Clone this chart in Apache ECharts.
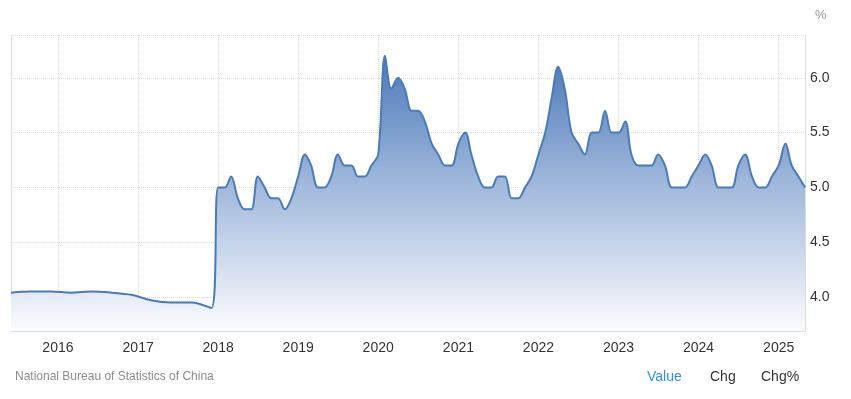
<!doctype html>
<html>
	<head>
		<meta charset="utf-8">
		<title>China Unemployment Rate</title>
		<script src="https://cdn.jsdelivr.net/npm/echarts@6/dist/echarts.min.js"></script>
		<style>
			html, body { margin: 0; padding: 0; background: #fff; }
			#chart { width: 851px; height: 399px; }
		</style>
	</head>
	<body>
		<div id="chart"></div>
		<script type="text/javascript">
			// registered urban unemployment, quarterly (quarter-end month)
			var regDates = ['2015-06', '2015-09', '2015-12', '2016-03', '2016-06', '2016-09', '2016-12',
				'2017-03', '2017-06', '2017-09', '2017-12'];
			var regValues = [4.04, 4.05, 4.05, 4.04, 4.05, 4.04, 4.02, 3.97, 3.95, 3.95, 3.90];

			// surveyed urban unemployment, monthly from Jan 2018
			var surveyStart = [2018, 1];
			var surveyValues = [
				5.0, 5.0, 5.1, 4.9, 4.8, 4.8, 5.1, 5.0, 4.9, 4.9, 4.8, 4.9, // 2018
				5.1, 5.3, 5.2, 5.0, 5.0, 5.1, 5.3, 5.2, 5.2, 5.1, 5.1, 5.2, // 2019
				5.3, 6.2, 5.9, 6.0, 5.9, 5.7, 5.7, 5.6, 5.4, 5.3, 5.2, 5.2, // 2020
				5.4, 5.5, 5.3, 5.1, 5.0, 5.0, 5.1, 5.1, 4.9, 4.9, 5.0, 5.1, // 2021
				5.3, 5.5, 5.8, 6.1, 5.9, 5.5, 5.4, 5.3, 5.5, 5.5, 5.7, 5.5, // 2022
				5.5, 5.6, 5.3, 5.2, 5.2, 5.2, 5.3, 5.2, 5.0, 5.0, 5.0, 5.1, // 2023
				5.2, 5.3, 5.2, 5.0, 5.0, 5.0, 5.2, 5.3, 5.1, 5.0, 5.0, 5.1, // 2024
				5.2, 5.4, 5.2, 5.1, 5.0                                     // 2025
			];

			var yearTicks = [2016, 2017, 2018, 2019, 2020, 2021, 2022, 2023, 2024, 2025];
			var yTicks = [4.0, 4.5, 5.0, 5.5, 6.0];
			var yMin = 3.69;
			var yMax = 6.39;

			function toTime(y, m) {
				return Date.UTC(y, m - 1, 1);
			}

			var seriesData = [];
			for (var i = 0; i < regDates.length; i++) {
				var p = regDates[i].split('-');
				seriesData.push([toTime(+p[0], +p[1]), regValues[i]]);
			}
			for (var j = 0; j < surveyValues.length; j++) {
				var yy = surveyStart[0] + Math.floor((surveyStart[1] - 1 + j) / 12);
				var mm = (surveyStart[1] - 1 + j) % 12 + 1;
				seriesData.push([toTime(yy, mm), surveyValues[j]]);
			}

			var xTicks = yearTicks.map(function (y) { return toTime(y, 1); });

			var chart = echarts.init(document.getElementById('chart'));
			chart.setOption({
				animation: false,
				textStyle: { fontFamily: 'Liberation Sans, Arial, sans-serif' },
				grid: { left: 11, right: 46, top: 35, bottom: 68 },
				xAxis: {
					type: 'value',
					min: toTime(2015, 6),
					max: toTime(2025, 5),
					axisLine: { show: true, lineStyle: { color: '#dcdcdc' } },
					axisTick: { show: false, customValues: xTicks },
					axisLabel: {
						customValues: xTicks,
						color: '#333',
						fontSize: 14,
						margin: 10,
						formatter: function (v) { return new Date(v).getUTCFullYear(); }
					},
					splitLine: { show: true, lineStyle: { color: '#d8d8d8', type: 'dotted' } }
				},
				yAxis: [{
					type: 'value',
					position: 'right',
					min: yMin,
					max: yMax,
					axisLine: { show: true, lineStyle: { color: '#dcdcdc' } },
					axisTick: { show: false, customValues: yTicks.concat([yMax]) },
					axisLabel: {
						customValues: yTicks,
						color: '#333',
						fontSize: 14,
						margin: 5,
						formatter: function (v) { return v.toFixed(1); }
					},
					splitLine: { show: true, lineStyle: { color: '#d8d8d8', type: 'dotted' } }
				}, {
					type: 'value',
					position: 'left',
					min: yMin,
					max: yMax,
					axisLine: { show: true, lineStyle: { color: '#dcdcdc' } },
					axisTick: { show: false },
					axisLabel: { show: false },
					splitLine: { show: false }
				}],
				series: [{
					type: 'line',
					data: seriesData,
					smooth: 0.35,
					showSymbol: false,
					lineStyle: { color: '#4a7bb7', width: 2 },
					itemStyle: { color: '#4a7bb7' },
					areaStyle: {
						opacity: 1,
						color: new echarts.graphic.LinearGradient(0, 0, 0, 1, [
							{ offset: 0, color: '#4b79b9' },
							{ offset: 0.45, color: '#9db6da' },
							{ offset: 1, color: '#fbfcfe' }
						])
					}
				}],
				graphic: [
					{ type: 'text', left: 815, top: 9, style: { text: '%', fill: '#999', fontSize: 13, fontFamily: 'Liberation Sans, Arial, sans-serif' } },
					{ type: 'text', left: 15, top: 371, style: { text: 'National Bureau of Statistics of China', fill: '#8c8c8c', fontSize: 12, fontFamily: 'Liberation Sans, Arial, sans-serif' } },
					{ type: 'text', left: 647, top: 370, style: { text: 'Value', fill: '#2d93d9', fontSize: 14, fontFamily: 'Liberation Sans, Arial, sans-serif' } },
					{ type: 'text', left: 710, top: 370, style: { text: 'Chg', fill: '#333', fontSize: 14, fontFamily: 'Liberation Sans, Arial, sans-serif' } },
					{ type: 'text', left: 761, top: 370, style: { text: 'Chg%', fill: '#333', fontSize: 14, fontFamily: 'Liberation Sans, Arial, sans-serif' } }
				]
			});
		</script>
	</body>
</html>
